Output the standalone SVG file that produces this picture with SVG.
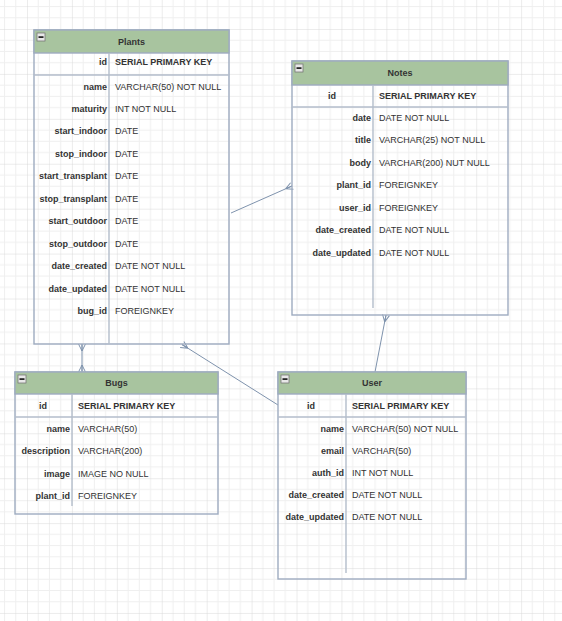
<svg xmlns="http://www.w3.org/2000/svg" width="562" height="621" viewBox="0 0 562 621">
  <defs>
    <pattern id="grid" patternUnits="userSpaceOnUse" x="27" y="29" width="44.92" height="44.92">
      <path d="M11.23,0 V44.92 M22.46,0 V44.92 M33.69,0 V44.92 M0,11.23 H44.92 M0,22.46 H44.92 M0,33.69 H44.92" stroke="#efefef" stroke-width="1" fill="none"/>
      <path d="M0,0 V44.92 M0,0 H44.92" stroke="#d9d9d9" stroke-width="1" fill="none"/>
    </pattern>
    <marker id="crow" markerUnits="userSpaceOnUse" markerWidth="10" markerHeight="10" refX="7" refY="5" viewBox="0 0 10 10" orient="auto-start-reverse">
      <path d="M0,5 L7,1.5 M0,5 L7,5 M0,5 L7,8.5" stroke="#7f93ad" stroke-width="1" fill="none"/>
    </marker>
    <g id="minus">
      <rect x="0" y="0" width="8" height="8" fill="#e8e8e8" stroke="#777" stroke-width="0.8"/>
      <rect x="1.5" y="3.3" width="5" height="1.6" fill="#111"/>
    </g>
  </defs>
  <style>
    .frame { fill: none; stroke: #9eacc0; stroke-width: 1.4; }
    .head { fill: #a8c49f; stroke: #9eacc0; stroke-width: 1.4; }
    .rule { stroke: #b3bdcb; stroke-width: 1.4; fill: none; }
    .title { font-family: "Liberation Sans", Arial, sans-serif; font-size: 9px; font-weight: bold; fill: #333; text-anchor: middle; }
    .key { font-family: "Liberation Sans", Arial, sans-serif; font-size: 9px; font-weight: bold; fill: #333; text-anchor: end; }
    .keyc { font-family: "Liberation Sans", Arial, sans-serif; font-size: 9px; font-weight: bold; fill: #333; text-anchor: middle; }
    .type { font-family: "Liberation Sans", Arial, sans-serif; font-size: 9px; fill: #333; }
    .typeb { font-family: "Liberation Sans", Arial, sans-serif; font-size: 9px; font-weight: bold; fill: #333; }
    .link { stroke: #7f93ad; stroke-width: 1; fill: none; }
  </style>

  <rect width="562" height="621" fill="#ffffff"/>
  <rect width="562" height="621" fill="url(#grid)"/>

  <!-- relationships -->
  <g id="connectors">
    <path class="link" d="M231,213 L292,186" marker-end="url(#crow)"/>
    <path class="link" d="M82,344 L82,372" marker-start="url(#crow)" marker-end="url(#crow)"/>
    <path class="link" d="M278,405 L182,344.5" marker-end="url(#crow)"/>
    <path class="link" d="M375,372 L386,315" marker-end="url(#crow)"/>
  </g>

  <!-- Plants table -->
  <g id="plants">
    <rect class="frame" x="34" y="30" width="195" height="314"/>
    <rect class="head" x="34" y="30" width="195" height="23"/>
    <use href="#minus" x="37" y="33"/>
    <text class="title" x="131.5" y="45">Plants</text>
    <line class="rule" x1="34" y1="75" x2="229" y2="75"/>
    <line class="rule" x1="109" y1="53" x2="109" y2="344"/>
    <text class="key" x="107" y="65">id</text>
    <text class="typeb" x="115" y="65">SERIAL PRIMARY KEY</text>
    <text class="key" x="107" y="90">name</text>
    <text class="type" x="115" y="90">VARCHAR(50) NOT NULL</text>
    <text class="key" x="107" y="112">maturity</text>
    <text class="type" x="115" y="112">INT NOT NULL</text>
    <text class="key" x="107" y="134">start_indoor</text>
    <text class="type" x="115" y="134">DATE</text>
    <text class="key" x="107" y="157">stop_indoor</text>
    <text class="type" x="115" y="157">DATE</text>
    <text class="key" x="107" y="179">start_transplant</text>
    <text class="type" x="115" y="179">DATE</text>
    <text class="key" x="107" y="202">stop_transplant</text>
    <text class="type" x="115" y="202">DATE</text>
    <text class="key" x="107" y="224">start_outdoor</text>
    <text class="type" x="115" y="224">DATE</text>
    <text class="key" x="107" y="247">stop_outdoor</text>
    <text class="type" x="115" y="247">DATE</text>
    <text class="key" x="107" y="269">date_created</text>
    <text class="type" x="115" y="269">DATE NOT NULL</text>
    <text class="key" x="107" y="292">date_updated</text>
    <text class="type" x="115" y="292">DATE NOT NULL</text>
    <text class="key" x="107" y="314">bug_id</text>
    <text class="type" x="115" y="314">FOREIGNKEY</text>
  </g>

  <!-- Notes table -->
  <g id="notes">
    <rect class="frame" x="292" y="61" width="216" height="254"/>
    <rect class="head" x="292" y="61" width="216" height="24"/>
    <use href="#minus" x="295" y="64"/>
    <text class="title" x="400" y="76">Notes</text>
    <line class="rule" x1="292" y1="107" x2="508" y2="107"/>
    <line class="rule" x1="373" y1="85" x2="373" y2="308"/>
    <text class="keyc" x="332" y="99">id</text>
    <text class="typeb" x="379" y="99">SERIAL PRIMARY KEY</text>
    <text class="key" x="371" y="121">date</text>
    <text class="type" x="379" y="121">DATE NOT NULL</text>
    <text class="key" x="371" y="143">title</text>
    <text class="type" x="379" y="143">VARCHAR(25) NOT NULL</text>
    <text class="key" x="371" y="166">body</text>
    <text class="type" x="379" y="166">VARCHAR(200) NUT NULL</text>
    <text class="key" x="371" y="188">plant_id</text>
    <text class="type" x="379" y="188">FOREIGNKEY</text>
    <text class="key" x="371" y="211">user_id</text>
    <text class="type" x="379" y="211">FOREIGNKEY</text>
    <text class="key" x="371" y="233">date_created</text>
    <text class="type" x="379" y="233">DATE NOT NULL</text>
    <text class="key" x="371" y="256">date_updated</text>
    <text class="type" x="379" y="256">DATE NOT NULL</text>
  </g>

  <!-- Bugs table -->
  <g id="bugs">
    <rect class="frame" x="15" y="372" width="203" height="142"/>
    <rect class="head" x="15" y="372" width="203" height="22"/>
    <use href="#minus" x="18" y="375"/>
    <text class="title" x="116.5" y="386">Bugs</text>
    <line class="rule" x1="15" y1="417" x2="218" y2="417"/>
    <line class="rule" x1="72" y1="394" x2="72" y2="506"/>
    <text class="keyc" x="43" y="409">id</text>
    <text class="typeb" x="78" y="409">SERIAL PRIMARY KEY</text>
    <text class="key" x="70" y="432">name</text>
    <text class="type" x="78" y="432">VARCHAR(50)</text>
    <text class="key" x="70" y="454">description</text>
    <text class="type" x="78" y="454">VARCHAR(200)</text>
    <text class="key" x="70" y="477">image</text>
    <text class="type" x="78" y="477">IMAGE NO NULL</text>
    <text class="key" x="70" y="499">plant_id</text>
    <text class="type" x="78" y="499">FOREIGNKEY</text>
  </g>

  <!-- User table -->
  <g id="user">
    <rect class="frame" x="278" y="372" width="188" height="207"/>
    <rect class="head" x="278" y="372" width="188" height="22"/>
    <use href="#minus" x="281" y="375"/>
    <text class="title" x="372" y="386">User</text>
    <line class="rule" x1="278" y1="417" x2="466" y2="417"/>
    <line class="rule" x1="346" y1="394" x2="346" y2="573"/>
    <text class="keyc" x="311" y="409">id</text>
    <text class="typeb" x="352" y="409">SERIAL PRIMARY KEY</text>
    <text class="key" x="344" y="432">name</text>
    <text class="type" x="352" y="432">VARCHAR(50) NOT NULL</text>
    <text class="key" x="344" y="454">email</text>
    <text class="type" x="352" y="454">VARCHAR(50)</text>
    <text class="key" x="344" y="476">auth_id</text>
    <text class="type" x="352" y="476">INT NOT NULL</text>
    <text class="key" x="344" y="498">date_created</text>
    <text class="type" x="352" y="498">DATE NOT NULL</text>
    <text class="key" x="344" y="520">date_updated</text>
    <text class="type" x="352" y="520">DATE NOT NULL</text>
  </g>
</svg>
